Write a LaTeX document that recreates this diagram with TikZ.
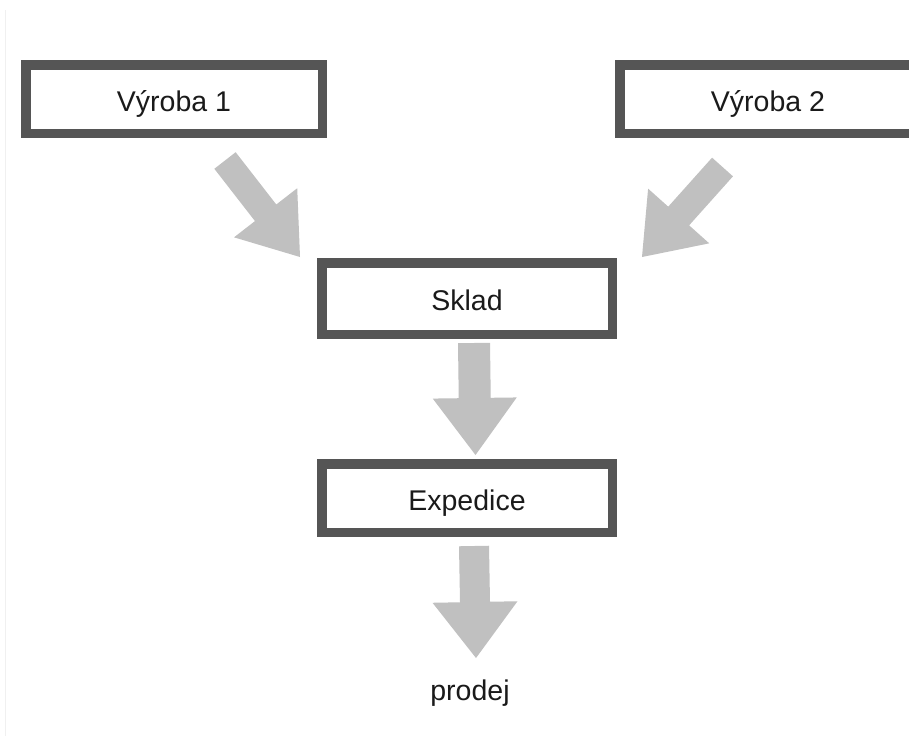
\documentclass[tikz,border=0pt]{standalone}
\usepackage{fontspec}
\setmainfont{Liberation Sans}
\usetikzlibrary{calc}
\definecolor{boxline}{HTML}{555555}
\definecolor{arrowgray}{HTML}{C0C0C0}
\definecolor{txt}{HTML}{1A1A1A}
\tikzset{
  stagebox/.style={draw=boxline, line width=9.5pt, fill=white, inner sep=0pt,
    minimum width=296.5pt, minimum height=68.5pt,
    text height=24pt, text depth=0pt, font=\fontsize{28.5}{30}\selectfont, text=txt},
  plainlabel/.style={inner sep=0pt, font=\fontsize{28.5}{30}\selectfont, text=txt, anchor=base},
  blockarrow/.style={fill=arrowgray, draw=none}
}
% #1 tail, #2 tip, #3 shaft half width, #4 head half width, #5 head length
\newcommand\myblockarrow[5]{%
  \coordinate (hb) at ($(#2)!#5!(#1)$);
  \fill[blockarrow]
    ($(#1)!#3!90:(#2)$) -- ($(hb)!#3!-90:(#1)$) -- ($(hb)!#4!-90:(#1)$) --
    (#2) --
    ($(hb)!#4!90:(#1)$) -- ($(hb)!#3!90:(#1)$) -- ($(#1)!#3!-90:(#2)$) -- cycle;
}
\begin{document}
\begin{tikzpicture}[x=1pt,y=-1pt]
\useasboundingbox (0,0) rectangle (909,736);
\fill[white] (0,0) rectangle (909,736);
\draw[black!6, line width=1pt] (5,10) -- (5,736);

\node[stagebox] (v1) at (174,99) {Výroba 1};
\node[stagebox] (v2) at (768,99) {Výroba 2};
\node[stagebox, minimum width=290.5pt, minimum height=71.5pt] (sk) at (467,298.5) {Sklad};
\node[stagebox, minimum width=290.5pt] (ex) at (467,498) {Expedice};
\node[plainlabel] (pr) at (470,700) {prodej};

% connectors as block arrows
\coordinate (a1t) at (225,160.5); \coordinate (a1h) at (300,257);
\coordinate (a2t) at (722.5,167); \coordinate (a2h) at (642,257);
\coordinate (a3t) at (474,343);   \coordinate (a3h) at (475.5,455);
\coordinate (a4t) at (474,546);   \coordinate (a4h) at (476,658);

\myblockarrow{a1t}{a1h}{13.5pt}{40pt}{56pt}
\myblockarrow{a2t}{a2h}{14pt}{41pt}{55pt}
\myblockarrow{a3t}{a3h}{16pt}{42pt}{57pt}
\myblockarrow{a4t}{a4h}{15pt}{42.5pt}{56pt}
\end{tikzpicture}
\end{document}
